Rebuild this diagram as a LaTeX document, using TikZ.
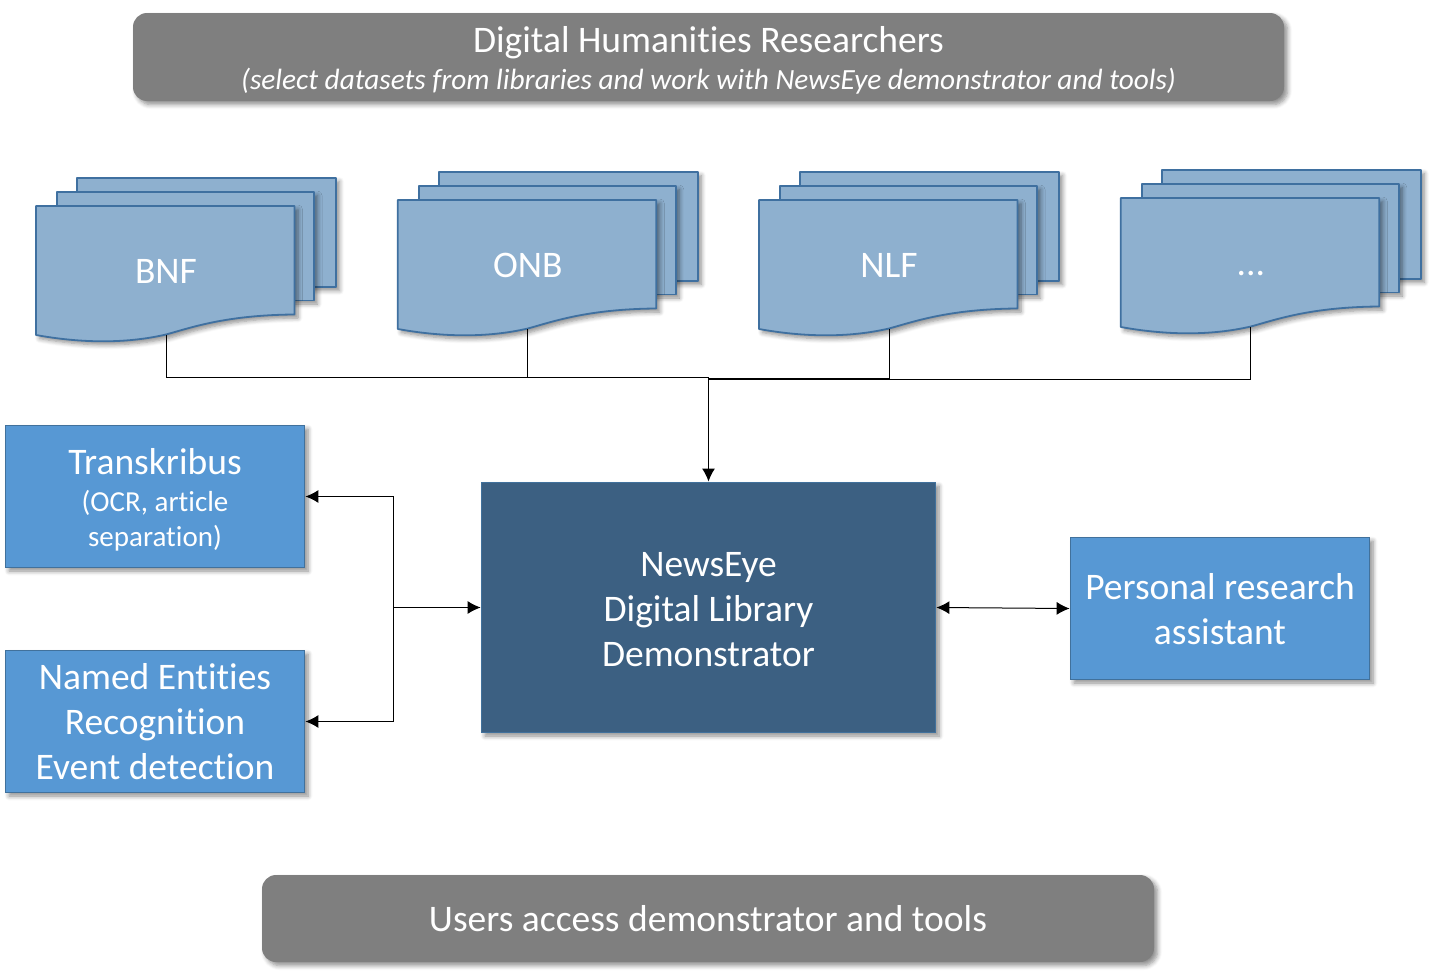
\documentclass[tikz,border=0pt]{standalone}
\usepackage{fontspec}
\setmainfont[Ligatures=NoCommon]{Carlito}
\usetikzlibrary{arrows.meta,shadows.blur}
\definecolor{greyfill}{HTML}{7F7F7F}
\definecolor{boxfill}{HTML}{5798D4}
\definecolor{boxline}{HTML}{41719C}
\definecolor{mainfill}{HTML}{3C6082}
\definecolor{docfill}{HTML}{8EB0CF}
\definecolor{docline}{HTML}{3F70A0}
\newcommand{\moredots}{...}
\newcommand{\bigtext}{\fontsize{37.5}{45}\selectfont}
\newcommand{\smalltext}{\fontsize{29}{35}\selectfont}
\tikzset{
  softshadow/.style={blur shadow={shadow xshift=3.5pt,shadow yshift=-3.5pt,shadow blur steps=6,shadow blur radius=4.5pt,shadow opacity=45}},
  greybox/.style={fill=greyfill,rounded corners=14pt,text=white,align=center,softshadow,inner sep=0pt},
  bluebox/.style={fill=boxfill,draw=boxline,line width=1.8pt,text=white,align=center,softshadow,inner sep=0pt,minimum width=299pt,minimum height=142pt,font=\bigtext},
  docpage/.style={fill=docfill,draw=docline,line width=1.8pt,line join=round,softshadow},
  doctext/.style={text=white,font=\bigtext,anchor=base,inner sep=0pt},
  wire/.style={draw=black,line width=1pt},
  arrowwire/.style={wire,-{Latex[length=13pt,width=13pt]}},
}
\begin{document}
\begin{tikzpicture}[x=1pt,y=-1pt]
  \useasboundingbox (0,0) rectangle (1435,977);

  \node[greybox,minimum width=1151pt,minimum height=88pt] (researchers) at (708.5,57)
    {\rule{0pt}{33pt}\bigtext Digital Humanities Researchers\\[8pt]
     \fontsize{29.3}{35}\selectfont\itshape (select datasets from libraries and work with NewsEye demonstrator and tools)};
  \node[greybox,minimum width=892pt,minimum height=87pt,font=\bigtext] (users) at (708,918.5) {Users access demonstrator and tools};

  % stacked documents
  \foreach \docname/\doclabel/\xs/\ys in {bnf/BNF/0/0,onb/ONB/361.8/-6,nlf/NLF/723/-6,more/\moredots/1084.8/-8}{
    \begin{scope}[xshift=\xs pt,yshift=-\ys pt]
      \draw[docpage] (77,178) rectangle (336,287);
      \draw[docpage] (57,192) rectangle (314,300.5);
      \draw[docpage] (36,206) -- (294.5,206) -- (294.5,314.5)
        .. controls (225,315) and (190,328) .. (166,334.5)
        .. controls (125,344) and (80,343) .. (36,335) -- cycle;
      \coordinate (\docname-foot) at (166,335);
      \node[doctext] (\docname) at (166,283.5) {\doclabel};
    \end{scope}
  }

  \node[bluebox] (transkribus) at (155,496.5)
    {\rule{0pt}{33pt}Transkribus\\[-8pt]
     \smalltext (OCR, article\\[-10pt]
     \smalltext separation)};
  \node[bluebox] (entities) at (155,721.5)
    {Named Entities\\ Recognition\\ Event detection};
  \node[bluebox,fill=mainfill,minimum width=454pt,minimum height=250pt] (demo) at (708.5,607.5)
    {\rule{0pt}{29pt}NewsEye\\ Digital Library\\ Demonstrator};
  \node[bluebox] (assistant) at (1220,608.5)
    {\rule{0pt}{27pt}Personal research\\ assistant};

  \coordinate (hub) at (708.5,377);
  \coordinate (fork) at (393.5,607.5);

  \draw[wire] (bnf-foot) |- (hub);
  \draw[wire] (onb-foot) -- (onb-foot |- hub);
  \draw[wire] (nlf-foot) |- ([yshift=-1pt]hub);
  \draw[wire] (more-foot) |- ([yshift=-2pt]hub);
  \draw[arrowwire,line width=1.4pt] (hub) -- (demo.north);

  \draw[arrowwire] (fork) |- (transkribus.east);
  \draw[arrowwire] (fork) |- (entities.east);
  \draw[arrowwire] (fork) -- (demo.west);
  \draw[wire,{Latex[length=13pt,width=13pt]}-{Latex[length=13pt,width=13pt]}] (demo.east) -- (assistant.west);
\end{tikzpicture}
\end{document}
